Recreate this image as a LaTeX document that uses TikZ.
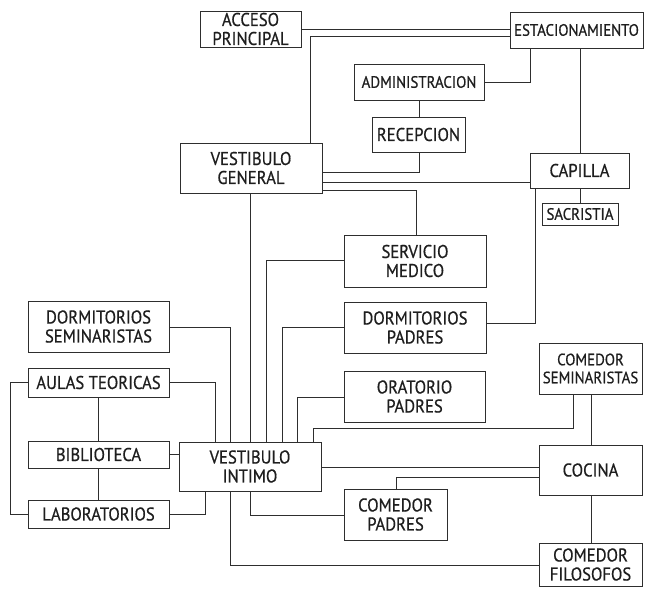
\documentclass[tikz,border=0pt]{standalone}
\usepackage{fontspec}
\setmainfont{PT Sans}[FakeStretch=0.9, FakeBold=0.6]
\definecolor{ink}{HTML}{2E2E2E}
\definecolor{txt}{HTML}{1E1E1E}
\tikzset{
  room/.style={draw=ink, line width=0.9pt, fill=white, inner sep=0pt, align=center,
    text=txt, font=\fontsize{18.5}{19}\selectfont},
  smallroom/.style={room, font=\fontsize{16.5}{18}\selectfont},
  link/.style={draw=ink, line width=0.8pt}
}
\begin{document}
\begin{tikzpicture}[x=1pt, y=-1pt]
\useasboundingbox (0,0) rectangle (650,589);
% nodes
\node[room, minimum width=101pt, minimum height=36pt] (acceso) at (250.5,29) {ACCESO\\PRINCIPAL};
\node[smallroom, minimum width=133pt, minimum height=36pt] (estac) at (576.5,30) {ESTACIONAMIENTO};
\node[smallroom, minimum width=130pt, minimum height=36pt] (admin) at (419,82) {ADMINISTRACION};
\node[room, minimum width=93pt, minimum height=35pt] (recep) at (418.5,134.5) {RECEPCION};
\node[room, minimum width=142pt, minimum height=50pt] (vg) at (251,168) {VESTIBULO\\GENERAL};
\node[room, minimum width=99pt, minimum height=35pt] (capilla) at (579.5,170.5) {CAPILLA};
\node[smallroom, minimum width=76pt, minimum height=22pt] (sacristia) at (580,214) {SACRISTIA};
\node[room, minimum width=142pt, minimum height=52pt] (servmed) at (415,261) {SERVICIO\\MEDICO};
\node[room, minimum width=142pt, minimum height=51pt] (dormpad) at (415,327.5) {DORMITORIOS\\PADRES};
\node[room, minimum width=141pt, minimum height=51pt] (oratorio) at (414.5,396.5) {ORATORIO\\PADRES};
\node[room, minimum width=141pt, minimum height=51pt] (dormsem) at (98.5,326.5) {DORMITORIOS\\SEMINARISTAS};
\node[room, minimum width=141pt, minimum height=29pt] (aulas) at (98.5,382.5) {AULAS TEORICAS};
\node[room, minimum width=141pt, minimum height=27pt] (biblio) at (98.5,454.5) {BIBLIOTECA};
\node[room, minimum width=141pt, minimum height=28pt] (labs) at (98.5,514) {LABORATORIOS};
\node[room, minimum width=142pt, minimum height=49pt] (vi) at (250,466.5) {VESTIBULO\\INTIMO};
\node[room, minimum width=103pt, minimum height=51pt] (compad) at (395.5,514.5) {COMEDOR\\PADRES};
\node[smallroom, minimum width=103pt, minimum height=51pt] (comsem) at (590.5,368.5) {COMEDOR\\SEMINARISTAS};
\node[room, minimum width=103pt, minimum height=50pt] (cocina) at (590.5,470) {COCINA};
\node[room, minimum width=103pt, minimum height=43pt] (comfil) at (590.5,564.5) {COMEDOR\\FILOSOFOS};
% connectors
\draw[link] (acceso.east) -- (acceso.east -| estac.west);
\draw[link] (310,0 |- vg.north) |- (estac.west |- 0,36);
\draw[link] (530,0 |- estac.south) |- (admin.east);
\draw[link] (580,0 |- estac.south) -- (580,0 |- capilla.north);
\draw[link] (419,0 |- admin.south) -- (419,0 |- recep.north);
\draw[link] (419,0 |- recep.south) |- (vg.east |- 0,172);
\draw[link] (vg.east |- 0,182) -- (capilla.west |- 0,182);
\draw[link] (vg.east |- 0,190) -| (416,0 |- servmed.north);
\draw[link] (250,0 |- vg.south) -- (250,0 |- vi.north);
\draw[link] (dormsem.east |- 0,327) -| (230,0 |- vi.north);
\draw[link] (aulas.east) -| (215,0 |- vi.north);
\draw[link] (servmed.west |- 0,260) -| (266,0 |- vi.north);
\draw[link] (dormpad.west |- 0,327) -| (282,0 |- vi.north);
\draw[link] (oratorio.west |- 0,397) -| (297,0 |- vi.north);
\draw[link] (313,0 |- vi.north) -- (313,428) -- (573,428) -- (573,0 |- comsem.south);
\draw[link] (591,0 |- comsem.south) -- (591,0 |- cocina.north);
\draw[link] (591,0 |- cocina.south) -- (591,0 |- comfil.north);
\draw[link] (vi.east |- 0,467) -- (cocina.west |- 0,467);
\draw[link] (396,0 |- compad.north) |- (cocina.west |- 0,477);
\draw[link] (250,0 |- vi.south) |- (compad.west |- 0,515);
\draw[link] (230,0 |- vi.south) |- (comfil.west |- 0,565);
\draw[link] (labs.east) -| (205,0 |- vi.south);
\draw[link] (biblio.east) -- (vi.west |- biblio.east);
\draw[link] (aulas.south) -- (biblio.north);
\draw[link] (biblio.south) -- (labs.north);
\draw[link] (aulas.west) -- (10,0 |- aulas.west) -- (10,0 |- labs.west) -- (labs.west);
\draw[link] (535,0 |- capilla.south) |- (dormpad.east |- 0,323);
\draw[link] (580,0 |- capilla.south) -- (580,0 |- sacristia.north);
\end{tikzpicture}
\end{document}
